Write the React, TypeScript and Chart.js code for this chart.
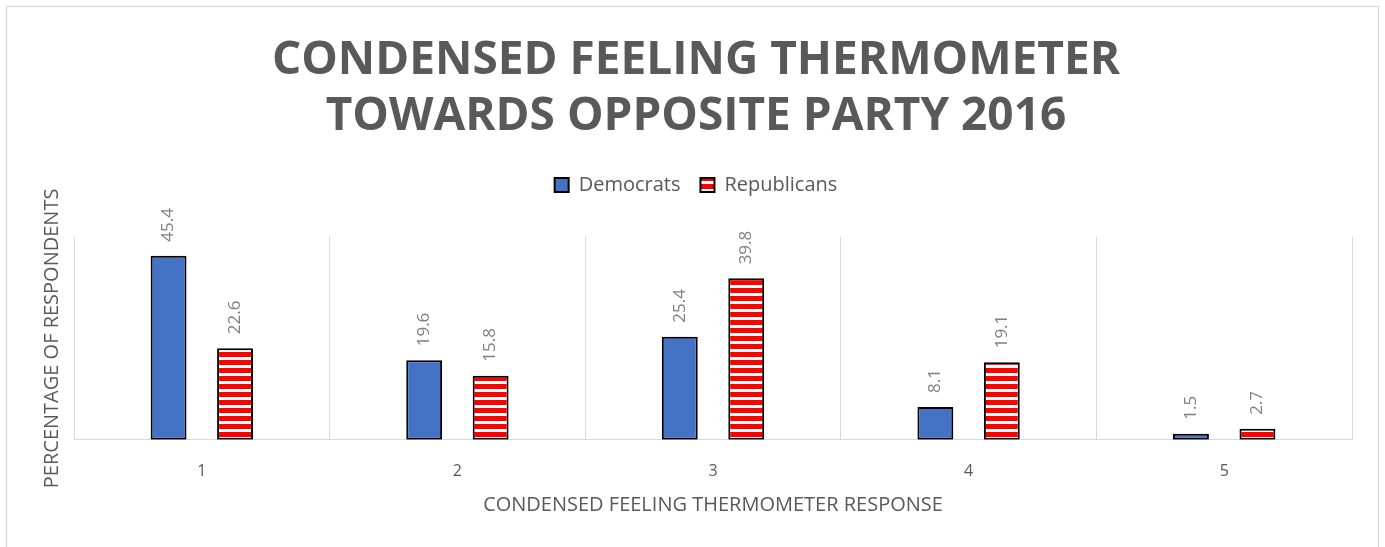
import React, { useEffect, useRef } from 'react';
import { Chart, registerables } from 'chart.js';

Chart.register(...registerables);

const categories = ['1', '2', '3', '4', '5'];
const democrats = [45.4, 19.6, 25.4, 8.1, 1.5];
const republicans = [22.6, 15.8, 39.8, 19.1, 2.7];
const seriesNames = ['Democrats', 'Republicans'];
const titleLines = ['CONDENSED FEELING THERMOMETER', 'TOWARDS OPPOSITE PARTY 2016'];
const xTitle = 'CONDENSED FEELING THERMOMETER RESPONSE';
const yTitle = 'PERCENTAGE OF RESPONDENTS';
const yMin = 0;
const yMax = 50;

const TEXT = '#595959';
const LABEL = '#808080';
const GRID = '#d9d9d9';
const FONT = "'Open Sans', 'DejaVu Sans', sans-serif";

function makeStripes(): CanvasPattern | string {
  const c = document.createElement('canvas');
  c.width = 8;
  c.height = 8;
  const g = c.getContext('2d');
  if (!g) return '#ff0000';
  g.fillStyle = '#ffffff';
  g.fillRect(0, 0, 8, 8);
  g.fillStyle = '#ff0000';
  g.fillRect(0, 0, 8, 5);
  const p = g.createPattern(c, 'repeat');
  return p || '#ff0000';
}

const framePlugin = {
  id: 'frame',
  beforeDraw(chart: any) {
    const ctx = chart.ctx;
    ctx.save();
    ctx.strokeStyle = GRID;
    ctx.lineWidth = 1.3;
    ctx.strokeRect(6.5, 6.5, chart.width - 13, chart.height + 20);
    ctx.restore();
  },
};

const dataLabelPlugin = {
  id: 'rotatedLabels',
  afterDatasetsDraw(chart: any) {
    const ctx = chart.ctx;
    ctx.save();
    ctx.font = `17px ${FONT}`;
    ctx.fillStyle = LABEL;
    ctx.textAlign = 'left';
    ctx.textBaseline = 'middle';
    chart.data.datasets.forEach((ds: any, di: number) => {
      const meta = chart.getDatasetMeta(di);
      meta.data.forEach((bar: any, i: number) => {
        const v = ds.data[i];
        ctx.save();
        ctx.translate(bar.x, bar.y - 14);
        ctx.rotate(-Math.PI / 2);
        ctx.fillText(v.toFixed(1), 0, 0);
        ctx.restore();
      });
    });
    ctx.restore();
  },
};

export default function App() {
  const ref = useRef<HTMLCanvasElement | null>(null);

  useEffect(() => {
    if (!ref.current) return;
    const stripes = makeStripes();
    const chart = new Chart(ref.current, {
      type: 'bar',
      data: {
        labels: categories,
        datasets: [
          {
            label: seriesNames[0],
            data: democrats,
            backgroundColor: '#4472c4',
            borderColor: '#000000',
            borderWidth: 2,
            borderSkipped: false,
            categoryPercentage: 0.52,
            barPercentage: 0.54,
          },
          {
            label: seriesNames[1],
            data: republicans,
            backgroundColor: stripes as any,
            borderColor: '#000000',
            borderWidth: 2,
            borderSkipped: false,
            categoryPercentage: 0.52,
            barPercentage: 0.54,
          },
        ],
      },
      options: {
        responsive: false,
        animation: false,
        layout: { padding: { top: 0, left: 40, right: 33, bottom: 30 } },
        plugins: {
          title: {
            display: true,
            text: titleLines,
            color: TEXT,
            font: { family: FONT, size: 46, weight: 'bold', lineHeight: 56 / 46 },
            padding: { top: 33, bottom: 10 },
          },
          legend: {
            display: true,
            position: 'top',
            labels: {
              color: TEXT,
              font: { family: FONT, size: 20 },
              boxWidth: 14,
              boxHeight: 14,
              padding: 20,
            },
          },
          tooltip: { enabled: false },
        },
        scales: {
          x: {
            type: 'category',
            position: 'bottom',
            grid: { display: true, offset: true, color: GRID, lineWidth: 1, drawTicks: false },
            border: { display: true, color: GRID, width: 1 },
            ticks: { color: TEXT, font: { family: FONT, size: 16 }, padding: 22 },
            title: {
              display: true,
              text: xTitle,
              color: TEXT,
              font: { family: FONT, size: 20 },
              padding: { top: -10, bottom: 0 },
            },
          },
          spacer: {
            type: 'category',
            position: 'top',
            grid: { display: false, drawTicks: false },
            border: { display: false },
            ticks: { display: false },
            afterFit(scale: any) {
              scale.height = 32;
            },
          },
          y: {
            type: 'linear',
            min: yMin,
            max: yMax,
            grid: { display: false, drawTicks: false },
            border: { display: false },
            ticks: { display: false },
            title: {
              display: true,
              text: yTitle,
              color: TEXT,
              font: { family: FONT, size: 20 },
              padding: { top: 0, bottom: 10 },
            },
          },
        },
      } as any,
      plugins: [framePlugin, dataLabelPlugin],
    });
    return () => chart.destroy();
  }, []);

  return (
    <div style={{ position: 'absolute', left: 0, top: 0, width: 1385, height: 547, background: '#ffffff' }}>
      <canvas ref={ref} width={1385} height={547} style={{ display: 'block' }} />
    </div>
  );
}
